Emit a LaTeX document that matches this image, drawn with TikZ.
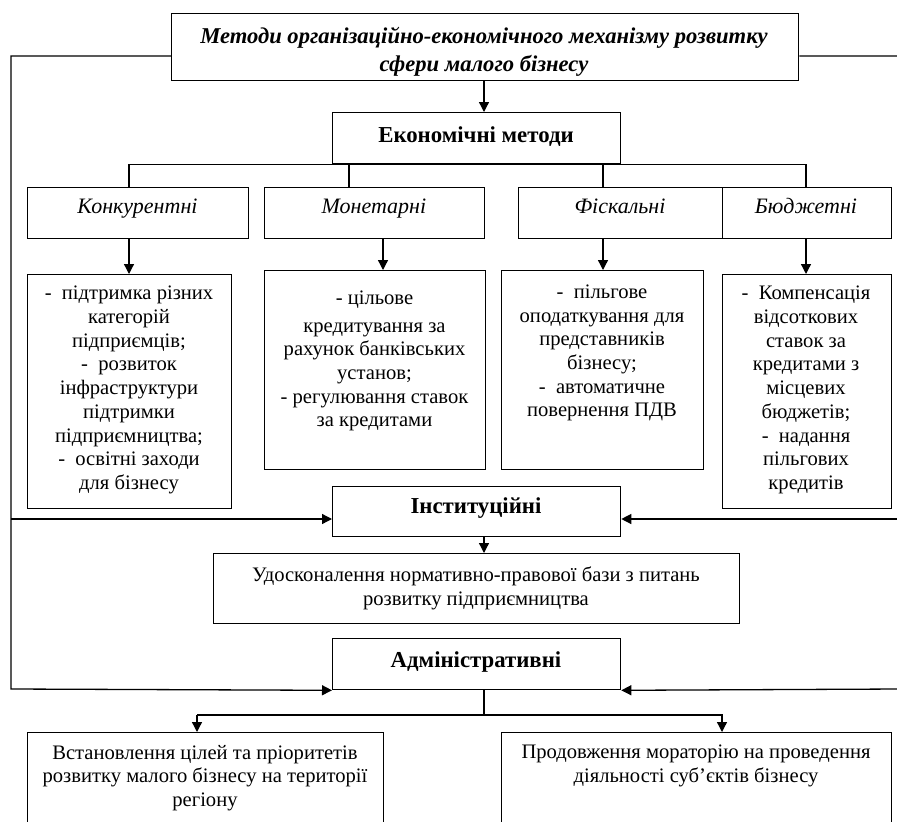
\documentclass[tikz,border=0pt]{standalone}
\usepackage{fontspec}
\setmainfont{Liberation Serif}
\usetikzlibrary{arrows.meta,calc}
\begin{document}
\begin{tikzpicture}[x=1pt,y=-1pt,
  box/.style={draw, line width=1.3pt, inner sep=0pt, anchor=north west},
  txt/.style={inner sep=0pt, align=center, font=\fontsize{20.6}{23.7}\selectfont},
  ttl/.style={inner sep=0pt, align=center, font=\fontsize{22.6}{27.5}\selectfont\bfseries\itshape},
  hdr/.style={inner sep=0pt, anchor=base, font=\fontsize{22.8}{24}\selectfont\bfseries},
  cat/.style={inner sep=0pt, anchor=base, font=\fontsize{22}{24}\selectfont\itshape},
  ln/.style={line width=1.3pt},
  arr/.style={line width=1.3pt, -{Triangle[length=10pt,width=10pt]}},
]
\useasboundingbox (0,0) rectangle (897,822);
\clip (0,0) rectangle (897,822);
% boxes
\node[box, minimum width=627, minimum height=67] (top) at (171,13) {};
\node[box, minimum width=288, minimum height=51] (eco) at (332,112) {};
\node[box, minimum width=221, minimum height=51] (k1) at (27,187) {};
\node[box, minimum width=220, minimum height=51] (k2) at (264,187) {};
\node[box, minimum width=204, minimum height=51] (k3) at (518,187) {};
\node[box, minimum width=169, minimum height=51] (k4) at (722,187) {};
\node[box, minimum width=204, minimum height=234] (b1) at (27,274) {};
\node[box, minimum width=221, minimum height=199] (b2) at (264,270) {};
\node[box, minimum width=202, minimum height=199] (b3) at (501,270) {};
\node[box, minimum width=169, minimum height=234] (b4) at (722,274) {};
\node[box, minimum width=288, minimum height=50] (inst) at (332,486) {};
\node[box, minimum width=526, minimum height=70] (udo) at (213,553) {};
\node[box, minimum width=288, minimum height=51] (adm) at (332,638) {};
\node[box, minimum width=356, minimum height=120] (bl) at (27,732) {};
\node[box, minimum width=390, minimum height=120] (br) at (501,732) {};
% texts
\node[ttl] (ttop) at (484,52) {Методи організаційно-економічного механізму розвитку\\сфери малого бізнесу};
\node[hdr] (teco) at (476,142) {Економічні методи};
\node[cat] (tk1) at (137.5,213) {Конкурентні};
\node[cat] (tk2) at (374,213) {Монетарні};
\node[cat] (tk3) at (620,213) {Фіскальні};
\node[cat] (tk4) at (806,213) {Бюджетні};
\node[txt] (tb1) at (129,390) {-\ \ підтримка різних\\категорій\\підприємців;\\-\ \ розвиток\\інфраструктури\\підтримки\\підприємництва;\\-\ \ освітні заходи\\для бізнесу};
\node[txt] (tb2) at (374.5,361) {- цільове\\[4pt]кредитування за\\рахунок банківських\\установ;\\- регулювання ставок\\за кредитами};
\node[txt] (tb3) at (602,353) {-\ \ пільгове\\оподаткування для\\представників\\бізнесу;\\-\ \ автоматичне\\повернення ПДВ};
\node[txt] (tb4) at (806,390) {-\ \ Компенсація\\відсоткових\\ставок за\\кредитами з\\місцевих\\бюджетів;\\-\ \ надання\\пільгових\\кредитів};
\node[hdr] (tinst) at (476,513) {Інституційні};
\node[txt] (tudo) at (476,588.5) {Удосконалення нормативно-правової бази з питань\\розвитку підприємництва};
\node[hdr] (tadm) at (476,667) {Адміністративні};
\node[txt] (tbl) at (205,778) {Встановлення цілей та пріоритетів\\розвитку малого бізнесу на території\\регіону};
\node[txt] (tbr) at (696,766) {Продовження мораторію на проведення\\діяльності суб’єктів бізнесу};
% helper coordinates
\coordinate (c1) at (129,0);
\coordinate (c2) at (349,0);
\coordinate (c2a) at (383,0);
\coordinate (c3) at (603,0);
\coordinate (c4) at (806,0);
\coordinate (cm) at (484,0);
\coordinate (L1) at (11,56);
\coordinate (L2) at (11,519);
\coordinate (L3) at (11,689);
\coordinate (R1) at (900,56);
\coordinate (R2) at (900,519);
\coordinate (R3) at (900,689);
\coordinate (hb) at (0,715);
\coordinate (d1) at (197,0);
\coordinate (d2) at (722,0);
% connectors
\draw[arr] (cm |- top.south) -- (cm |- eco.north);
\draw[ln] (c1 |- k1.north) -- (c1 |- eco.south) -- (c4 |- eco.south) -- (c4 |- k4.north);
\draw[ln] (c2 |- eco.south) -- (c2 |- k2.north);
\draw[ln] (c3 |- eco.south) -- (c3 |- k3.north);
\draw[arr] (c1 |- k1.south) -- (c1 |- b1.north);
\draw[arr] (c2a |- k2.south) -- (c2a |- b2.north);
\draw[arr] (c3 |- k3.south) -- (c3 |- b3.north);
\draw[arr] (c4 |- k4.south) -- (c4 |- b4.north);
\draw[arr] (top.west |- L1) -- (L1) -- (L3) -- (adm.south west);
\draw[arr] (L2) -- (inst.west |- L2);
\draw[arr] (top.east |- R1) -- (R1) -- (R3) -- (adm.south east);
\draw[arr] (R2) -- (inst.east |- R2);
\draw[arr] (cm |- inst.south) -- (cm |- udo.north);
\draw[ln] (cm |- adm.south) -- (cm |- hb);
\draw[arr] (d1 |- hb) -- (d2 |- hb) -- (d2 |- br.north);
\draw[arr] (d1 |- hb) -- (d1 |- bl.north);
\end{tikzpicture}
\end{document}
